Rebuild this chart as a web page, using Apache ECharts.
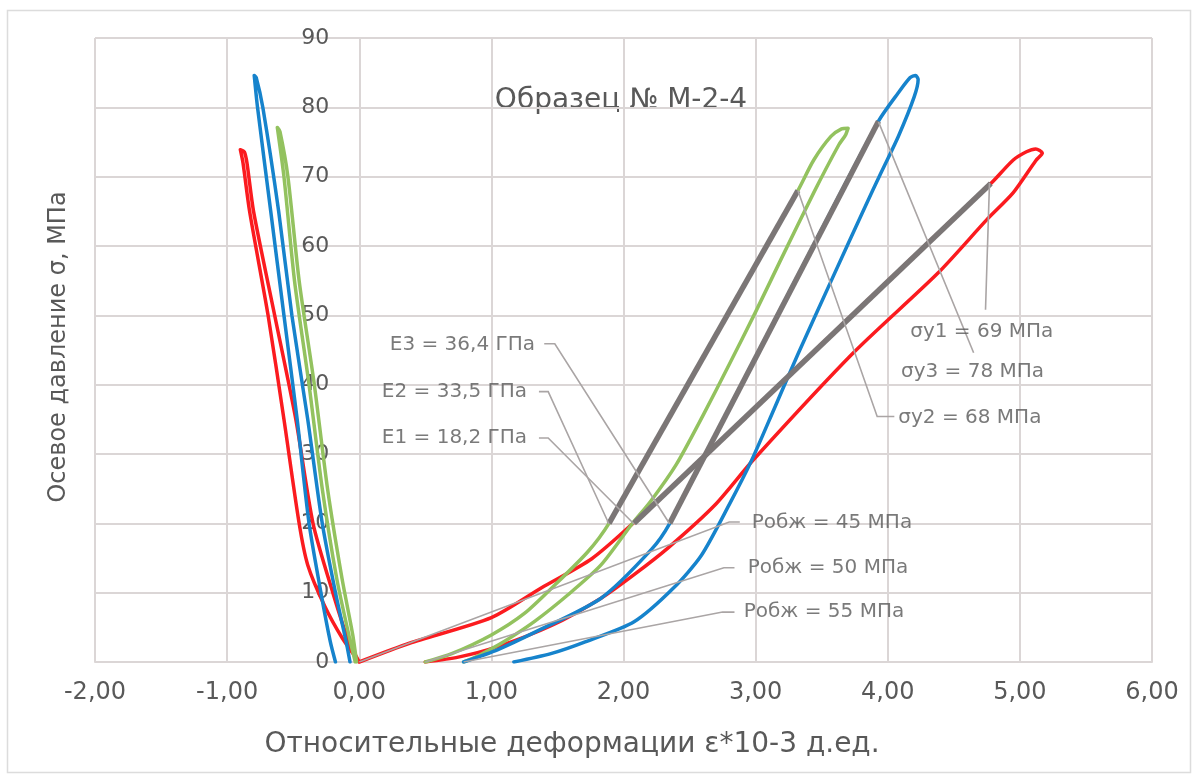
<!DOCTYPE html>
<html><head><meta charset="utf-8">
<script src="https://cdn.jsdelivr.net/npm/echarts@6/dist/echarts.min.js"></script>
<style>html,body{margin:0;padding:0;background:#fff}#c{width:1198px;height:780px}</style>
</head><body><div id="c"></div>
<script>
const chartTitle = 'Образец № М-2-4';
const xAxisTitle = 'Относительные деформации ε*10-3 д.ед.';
const yAxisTitle = 'Осевое давление σ, МПа';

// Right-side (axial strain) loops
const redRightX = [0, 0.38, 1.0, 1.38, 1.76, 2.06, 2.6, 3.2, 3.8, 4.4, 4.78, 4.95, 5.05, 5.12, 5.17, 5.12, 4.95, 4.75, 4.38, 3.74, 2.98, 2.69, 2.34, 2.08, 1.83, 1.46, 1.03, 0.75, 0.5];
const redRightY = [0, 2.7, 6.4, 10.7, 14.9, 19.8, 29.5, 40.4, 51.3, 62.2, 69.0, 72.4, 73.6, 74.0, 73.4, 72.3, 67.7, 63.8, 56.1, 44.6, 29.1, 22.6, 16.5, 12.6, 9.2, 5.3, 2.1, 0.7, 0];
const greenRightX = [0.5, 0.7, 1.0, 1.25, 1.48, 1.73, 1.89, 2.3, 2.8, 3.32, 3.44, 3.57, 3.65, 3.70, 3.68, 3.63, 3.44, 3.19, 3.00, 2.80, 2.60, 2.40, 2.21, 2.06, 1.83, 1.58, 1.33, 1.1, 0.9, 0.79];
const greenRightY = [0, 1.2, 3.9, 7.0, 11.1, 15.9, 20.0, 33.8, 50.6, 68.0, 72.4, 75.8, 76.9, 77.0, 76.0, 74.6, 67.7, 58.0, 50.5, 42.9, 35.5, 28.5, 23.3, 19.8, 14.0, 9.7, 5.9, 3.0, 0.9, 0];
const blueRightX = [0.79, 1.05, 1.33, 1.83, 2.21, 2.35, 2.8, 3.3, 3.93, 4.08, 4.17, 4.21, 4.23, 4.20, 4.08, 3.95, 3.82, 3.57, 3.32, 3.14, 2.97, 2.80, 2.59, 2.38, 2.08, 1.71, 1.45, 1.17];
const blueRightY = [0, 1.8, 4.3, 9.2, 16.2, 20.0, 36.6, 55.0, 78.0, 82.1, 84.3, 84.6, 84.0, 81.5, 75.8, 70.6, 65.3, 54.9, 44.4, 36.5, 29.1, 22.7, 15.4, 10.7, 5.8, 2.9, 1.2, 0];

// Left-side (lateral strain) loops
const redLeftX = [0, -0.13, -0.26, -0.39, -0.455, -0.57, -0.69, -0.83, -0.88, -0.90, -0.87, -0.85, -0.80, -0.64, -0.48, -0.35, -0.20, -0.08, 0];
const redLeftY = [0, 3.5, 8, 14, 20, 35, 50, 65, 72, 73.9, 73.6, 72, 65, 50, 35, 20, 10, 3, 0];
const blueLeftX = [-0.18, -0.22, -0.29, -0.38, -0.47, -0.57, -0.67, -0.77, -0.795, -0.78, -0.73, -0.61, -0.51, -0.39, -0.28, -0.18, -0.10, -0.07];
const blueLeftY = [0, 3, 10, 20, 35, 50, 65, 80, 84.6, 84.3, 80, 65, 50, 35, 20, 10, 3, 0];
const greenLeftX = [-0.03, -0.08, -0.17, -0.28, -0.38, -0.49, -0.57, -0.62, -0.60, -0.54, -0.455, -0.34, -0.24, -0.13, -0.05, -0.02];
const greenLeftY = [0, 4, 12, 25, 40, 55, 70, 77.1, 76.5, 70, 55, 40, 25, 12, 4, 0];

// Modulus (secant) lines
const modRedX = [2.08, 4.78], modRedY = [20, 69];
const modGreenX = [1.89, 3.32], modGreenY = [20, 68];
const modBlueX = [2.35, 3.93], modBlueY = [20, 78];

// Annotation texts and anchor points
const eLabels = ['E3 = 36,4 ГПа', 'E2 = 33,5 ГПа', 'E1 = 18,2 ГПа'];
const eLabelX = [1.33, 1.27, 1.27], eLabelY = [45.7, 39.0, 32.3];
const pLabels = ['Робж = 45 МПа', 'Робж = 50 МПа', 'Робж = 55 МПа'];
const pLabelX = [2.97, 2.94, 2.91], pLabelY = [20.1, 13.6, 7.2];
const sLabels = ['σy1 = 69 МПа', 'σy3 = 78 МПа', 'σy2 = 68 МПа'];
const sLabelX = [4.17, 4.10, 4.08], sLabelY = [47.6, 41.8, 35.2];

// Leader lines
const leaderE3X = [1.40, 1.48, 2.35], leaderE3Y = [45.9, 45.9, 19.9];
const leaderE2X = [1.36, 1.43, 1.89], leaderE2Y = [39.0, 39.0, 19.9];
const leaderE1X = [1.36, 1.43, 2.08], leaderE1Y = [32.3, 32.3, 19.9];
const leaderP45X = [2.88, 2.80, 0], leaderP45Y = [20.2, 20.2, 0];
const leaderP50X = [2.84, 2.76, 0.5], leaderP50Y = [13.6, 13.6, 0];
const leaderP55X = [2.84, 2.75, 0.79], leaderP55Y = [7.2, 7.2, 0];
const leaderS1X = [4.74, 4.77], leaderS1Y = [50.8, 69.1];
const leaderS3X = [4.65, 3.93], leaderS3Y = [44.6, 77.9];
const leaderS2X = [4.05, 3.92, 3.32], leaderS2Y = [35.4, 35.4, 68.0];

const FONT = '"DejaVu Sans", "Open Sans", sans-serif';
const TXT = '#595959';
const GRID = '#dbd6d6';

function pairs(xs, ys) { return xs.map((x, i) => [x, ys[i]]); }
function curve(name, xs, ys, color, w, z) {
  return { name, type: 'line', data: pairs(xs, ys), showSymbol: false, symbol: 'none', smooth: 0.25,
    lineStyle: { color, width: w, cap: 'round', join: 'round' }, z: z || 2, silent: true };
}
function straight(name, xs, ys, color, w, z) {
  return { name, type: 'line', data: pairs(xs, ys), showSymbol: false, symbol: 'none',
    lineStyle: { color, width: w, cap: 'butt', join: 'miter' }, z: z || 3, silent: true };
}
function labels(name, xs, ys, texts, pos) {
  return { name, type: 'scatter', symbolSize: 0, z: 5, silent: true,
    data: xs.map((x, i) => [x, ys[i], texts[i]]),
    label: { show: true, position: pos, distance: 0, formatter: p => p.data[2],
      fontFamily: FONT, fontSize: 20, color: TXT } };
}

const RED = '#fb1b1f', GREEN = '#93c25f', BLUE = '#1683cc', DARK = '#7b7676', LEAD = '#aaa5a5';

const series = [
  curve('redR', redRightX, redRightY, RED, 3.5),
  curve('greenR', greenRightX, greenRightY, GREEN, 3.5),
  curve('blueR', blueRightX, blueRightY, BLUE, 3.5),
  curve('redL', redLeftX, redLeftY, RED, 3.5),
  curve('blueL', blueLeftX, blueLeftY, BLUE, 3.5),
  curve('greenL', greenLeftX, greenLeftY, GREEN, 3.5),
  straight('modR', modRedX, modRedY, DARK, 5.5),
  straight('modG', modGreenX, modGreenY, DARK, 5.5),
  straight('modB', modBlueX, modBlueY, DARK, 5.5),
  straight('lE3', leaderE3X, leaderE3Y, LEAD, 1.6, 4),
  straight('lE2', leaderE2X, leaderE2Y, LEAD, 1.6, 4),
  straight('lE1', leaderE1X, leaderE1Y, LEAD, 1.6, 4),
  straight('lP45', leaderP45X, leaderP45Y, LEAD, 1.6, 4),
  straight('lP50', leaderP50X, leaderP50Y, LEAD, 1.6, 4),
  straight('lP55', leaderP55X, leaderP55Y, LEAD, 1.6, 4),
  straight('lS1', leaderS1X, leaderS1Y, LEAD, 1.6, 4),
  straight('lS3', leaderS3X, leaderS3Y, LEAD, 1.6, 4),
  straight('lS2', leaderS2X, leaderS2Y, LEAD, 1.6, 4),
  labels('eLab', eLabelX, eLabelY, eLabels, 'left'),
  labels('pLab', pLabelX, pLabelY, pLabels, 'right'),
  labels('sLab', sLabelX, sLabelY, sLabels, 'right')
];

const chart = echarts.init(document.getElementById('c'), null, { renderer: 'canvas' });
chart.setOption({
  animation: false,
  backgroundColor: '#ffffff',
  grid: { left: 95, right: 46, top: 38, bottom: 118, containLabel: false },
  xAxis: {
    type: 'value', min: -2, max: 6, interval: 1,
    axisLine: { show: true, onZero: false, lineStyle: { color: GRID, width: 2 } },
    axisTick: { show: false },
    splitLine: { show: true, lineStyle: { color: GRID, width: 2 } },
    axisLabel: { formatter: v => v.toFixed(2).replace('.', ','), fontFamily: FONT, fontSize: 24, color: TXT, margin: 19 }
  },
  yAxis: {
    type: 'value', min: 0, max: 90, interval: 10, offset: 0,
    axisLine: { show: true, onZero: false, lineStyle: { color: GRID, width: 2 } },
    axisTick: { show: false },
    splitLine: { show: true, lineStyle: { color: GRID, width: 2 } },
    axisLabel: { fontFamily: FONT, fontSize: 22, color: TXT, margin: 30 }
  },
  graphic: [
    { type: 'rect', silent: true, z: -10, shape: { x: 7.5, y: 10.5, width: 1183, height: 762 },
      style: { fill: 'none', stroke: '#dcdcdc', lineWidth: 1.5 } },
    { type: 'text', silent: true, x: 621, y: 101,
      style: { text: chartTitle, font: '28px ' + FONT, fill: TXT, textAlign: 'center', align: 'center', textVerticalAlign: 'middle', verticalAlign: 'middle' } },
    { type: 'text', silent: true, x: 572, y: 745,
      style: { text: xAxisTitle, font: '28px ' + FONT, fill: TXT, textAlign: 'center', align: 'center', textVerticalAlign: 'middle', verticalAlign: 'middle' } },
    { type: 'text', silent: true, x: 59, y: 347, rotation: Math.PI / 2,
      style: { text: yAxisTitle, font: '24px ' + FONT, fill: TXT, textAlign: 'center', align: 'center', textVerticalAlign: 'middle', verticalAlign: 'middle' } }
  ],
  series
});
// Place the vertical axis (with its labels) at x = 0 using the x scale
const zeroPx = chart.convertToPixel({ xAxisIndex: 0 }, 0);
const leftPx = chart.convertToPixel({ xAxisIndex: 0 }, -2);
chart.setOption({ yAxis: { offset: leftPx - zeroPx } });
</script></body></html>
